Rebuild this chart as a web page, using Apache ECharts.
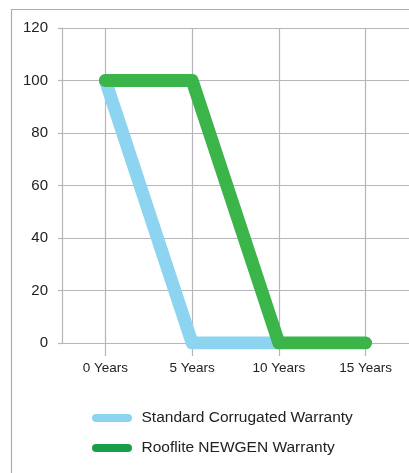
<!DOCTYPE html>
<html>
<head>
<meta charset="utf-8">
<script src="https://cdn.jsdelivr.net/npm/echarts@6/dist/echarts.min.js"></script>
<style>
  html, body { margin: 0; padding: 0; background: #fff; }
  #chart { width: 409px; height: 473px; }
</style>
</head>
<body>
<div id="chart"></div>
<script>
// warranty curves, x in years
const years = [0, 5, 10, 15]
const standardWarranty = [100, 0, 0]
const newgenWarranty = [100, 100, 0, 0]
const yTicks = [0, 20, 40, 60, 80, 100, 120]
const seriesNames = ['Standard Corrugated Warranty', 'Rooflite NEWGEN Warranty']

const gridColor = '#b6b6ba'
const blue = '#8dd4f1'
const green = '#3bb54a'

const chart = echarts.init(document.getElementById('chart'))

const toPoints = (vals) => vals.map((v, i) => [years[i], v])

const option = {
  animation: false,
  graphic: [{
    type: 'rect',
    left: 9,
    top: 7,
    shape: { width: 600, height: 600 },
    style: { fill: 'none', stroke: '#adadad', lineWidth: 1.2 },
    silent: true
  }],
  grid: { left: 62, right: -4, top: 28, bottom: 130 },
  xAxis: {
    type: 'value',
    min: -2.5,
    max: 17.5,
    axisLine: { show: true, onZero: false, lineStyle: { color: gridColor, width: 1.2 } },
    axisTick: { show: true, length: 13, customValues: years, lineStyle: { color: gridColor, width: 1.2 } },
    axisLabel: {
      customValues: years,
      margin: 18,
      color: '#222',
      fontSize: 13.5,
      fontFamily: 'Liberation Sans, Arial, sans-serif',
      formatter: (v) => v + ' Years'
    },
    splitLine: { show: true, lineStyle: { color: gridColor, width: 1.2 } }
  },
  yAxis: {
    type: 'value',
    min: yTicks[0],
    max: yTicks[yTicks.length - 1],
    interval: 20,
    axisLine: { show: true, onZero: false, lineStyle: { color: gridColor, width: 1.2 } },
    axisTick: { show: true, length: 4, lineStyle: { color: gridColor, width: 1.2 } },
    axisLabel: {
      margin: 14,
      color: '#222',
      fontSize: 15,
      fontFamily: 'Liberation Sans, Arial, sans-serif'
    },
    splitLine: { show: true, lineStyle: { color: gridColor, width: 1.2 } }
  },
  legend: {
    orient: 'vertical',
    left: 87,
    top: 405,
    itemWidth: 41,
    itemHeight: 8,
    itemGap: 14,
    icon: 'path://M4,0 H36 A4,4 0 0 1 36,8 H4 A4,4 0 0 1 4,0 Z',
    textStyle: {
      color: '#222',
      fontSize: 15.5,
      fontFamily: 'Liberation Sans, Arial, sans-serif',
      padding: [0, 0, 0, 4]
    },
    data: [
      { name: seriesNames[0], itemStyle: { color: blue } },
      { name: seriesNames[1], itemStyle: { color: '#1a9e4b' } }
    ]
  },
  series: [
    {
      name: seriesNames[0],
      type: 'line',
      showSymbol: false,
      symbol: 'none',
      color: blue,
      lineStyle: { width: 13, color: blue, cap: 'round', join: 'round' },
      data: toPoints(standardWarranty)
    },
    {
      name: seriesNames[1],
      type: 'line',
      showSymbol: false,
      symbol: 'none',
      color: green,
      lineStyle: { width: 13, color: green, cap: 'round', join: 'round' },
      data: toPoints(newgenWarranty)
    }
  ]
}

chart.setOption(option)
</script>
</body>
</html>
